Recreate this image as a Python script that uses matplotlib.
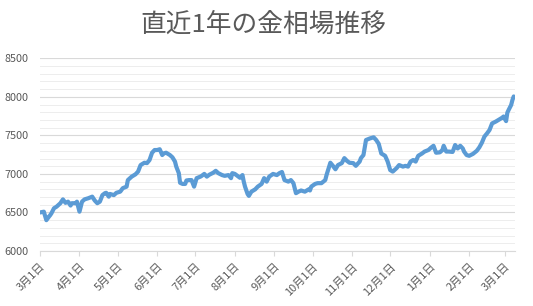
import matplotlib
matplotlib.use("Agg")
import matplotlib.pyplot as plt
import matplotlib.dates as mdates
import matplotlib.ticker as mticker
import pandas as pd

plt.rcParams["font.family"] = ["Noto Sans CJK JP", "DejaVu Sans"]

TITLE = "直近1年の金相場推移"
START = "2021-03-01"

# 経過日数（START からの日数）と価格（円/g）— 画像から読み取り
DAYS = [
    0, 3, 5, 7, 8, 9, 11, 13, 16, 18,
    20, 22, 24, 25, 28, 29, 31, 33, 35, 38,
    41, 43, 45, 47, 49, 51, 52, 54, 55, 58,
    60, 63, 65, 68, 69, 72, 75, 77, 79, 82,
    84, 86, 88, 90, 92, 94, 96, 97, 99, 102,
    104, 106, 107, 109, 110, 112, 114, 115, 117, 119,
    121, 123, 126, 127, 129, 131, 133, 136, 138, 140,
    143, 145, 148, 150, 151, 153, 155, 157, 159, 160,
    161, 163, 164, 166, 169, 171,
    174, 176, 178, 180, 183, 186, 188, 190, 192, 195,
    197, 199, 201, 203, 205, 208, 211, 212, 213, 216,
    218, 221, 224, 225, 228, 230, 232, 234, 237, 239,
    241, 243, 246, 248, 251, 252, 254, 256, 259, 262,
    264, 266, 268, 271, 273, 275, 277, 280, 282, 285,
    287, 289, 291, 293, 295, 297, 300, 302, 305, 307,
    309, 311, 314, 316, 317, 319, 321, 324, 326, 328,
    330, 332, 333, 335, 337, 340, 343, 345, 347, 349,
    351, 353, 355, 358, 360, 363, 364, 366, 367, 368,
    370, 371, 372,
]
PRICES = [
    6500, 6510, 6400, 6445, 6465, 6490, 6555, 6575, 6620, 6670,
    6625, 6640, 6590, 6620, 6620, 6640, 6510, 6640, 6670, 6685,
    6705, 6655, 6620, 6640, 6725, 6750, 6755, 6705, 6740, 6725,
    6755, 6770, 6815, 6835, 6920, 6965, 6995, 7030, 7115, 7145,
    7140, 7180, 7275, 7310, 7310, 7320, 7245, 7265, 7275, 7245,
    7215, 7160, 7095, 7010, 6885, 6870, 6870, 6915, 6920, 6920,
    6835, 6945, 6965, 6975, 7000, 6965, 6990, 7015, 7040, 7010,
    6985, 6975, 6985, 6945, 7010, 7000, 6975, 6950, 6985, 6900,
    6835, 6740, 6715, 6770, 6800, 6835,
    6870, 6945, 6900, 6965, 7000, 6985, 7010, 7025, 6920, 6900,
    6920, 6880, 6750, 6770, 6785, 6770, 6800, 6785, 6835, 6870,
    6880, 6880, 6920, 6985, 7145, 7105, 7060, 7115, 7140, 7205,
    7170, 7145, 7140, 7105, 7160, 7205, 7245, 7440, 7460, 7475,
    7440, 7390, 7265, 7235, 7160, 7050, 7030, 7075, 7115, 7095,
    7105, 7095, 7160, 7180, 7160, 7235, 7265, 7290, 7310, 7340,
    7365, 7275, 7280, 7310, 7365, 7290, 7290, 7285, 7375, 7330,
    7365, 7330, 7290, 7245, 7235, 7260, 7300, 7345, 7405, 7485,
    7525, 7570, 7655, 7680, 7700, 7730, 7745, 7685, 7795, 7830,
    7895, 7960, 8005,
]

TEXT_GRAY = "#595959"
LINE_BLUE = "#5B9BD5"

dates = pd.Timestamp(START) + pd.to_timedelta(DAYS, unit="D")

fig = plt.figure(figsize=(5.33, 3.06), dpi=100)
fig.patch.set_facecolor("white")
ax = fig.add_axes([40 / 533, 1 - 251 / 306, 475 / 533, (251 - 58.3) / 306])

ax.plot(dates, PRICES, color=LINE_BLUE, linewidth=3.0, solid_joinstyle="round",
        solid_capstyle="round", zorder=3)

ax.set_xlim(pd.Timestamp(START), pd.Timestamp(START) + pd.Timedelta(days=373))
ax.set_ylim(6000, 8500)
ax.yaxis.set_major_locator(mticker.MultipleLocator(500))
ax.yaxis.set_minor_locator(mticker.MultipleLocator(100))
ax.grid(which="major", axis="y", color="#D9D9D9", linewidth=0.8, zorder=0)
ax.grid(which="minor", axis="y", color="#EDEDED", linewidth=0.7, zorder=0)

# 月初ごとの目盛り（"3月1日" 形式）
ax.xaxis.set_major_locator(mdates.MonthLocator(bymonthday=1))
ax.xaxis.set_major_formatter(mticker.FuncFormatter(
    lambda v, pos: f"{mdates.num2date(v).month}月1日"))

for side in ("top", "right", "left"):
    ax.spines[side].set_visible(False)
ax.spines["bottom"].set_color("#D9D9D9")
ax.spines["bottom"].set_linewidth(0.8)
ax.tick_params(axis="y", which="both", length=0, pad=8, labelsize=7.8,
               labelcolor=TEXT_GRAY)
ax.tick_params(axis="x", which="major", length=3.5, width=0.8, color="#D9D9D9",
               labelsize=8, labelcolor=TEXT_GRAY, pad=4)
plt.setp(ax.get_xticklabels(), rotation=45, ha="right", rotation_mode="anchor")

fig.text(0.495, 1 - 25 / 306, TITLE, ha="center", va="center", fontsize=18.5,
         color=TEXT_GRAY)

fig.savefig("out.png", dpi=100, facecolor="white")
